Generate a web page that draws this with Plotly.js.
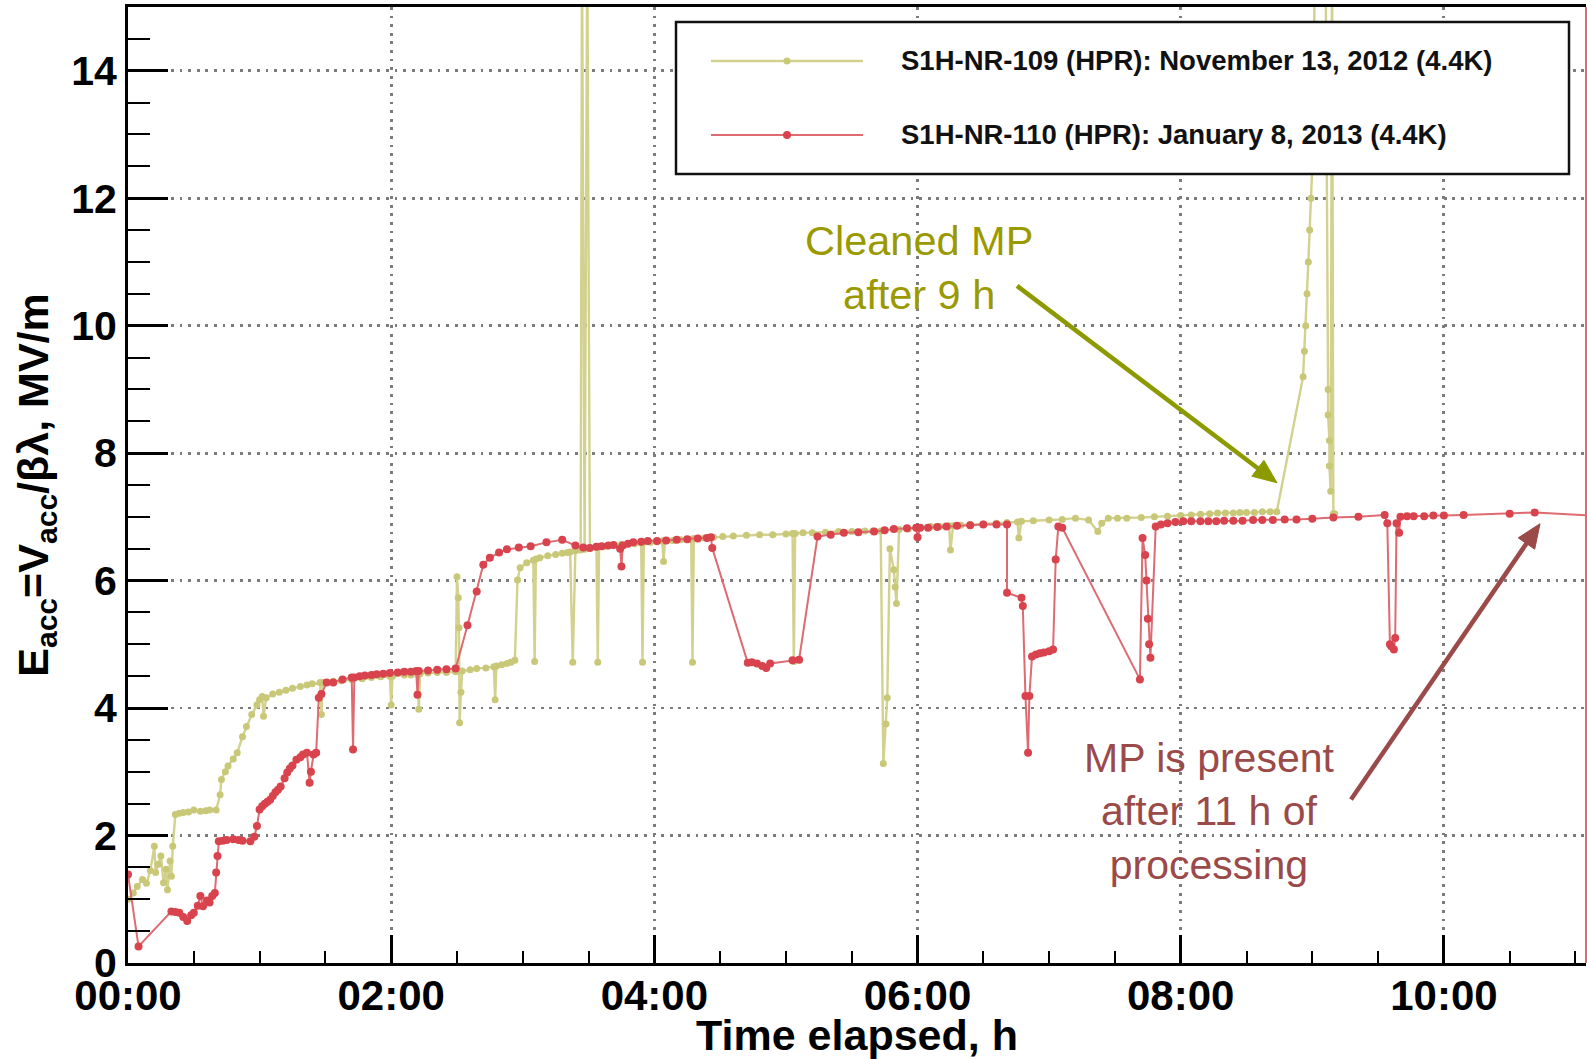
<!DOCTYPE html>
<html>
<head>
<meta charset="utf-8">
<script src="https://cdn.plot.ly/plotly-3.0.1.min.js"></script>
<style>html,body{margin:0;padding:0;background:#fff;}#chart{width:1587px;height:1059px;}</style>
</head>
<body>
<div id="chart"></div>
<script>
// ---- data (time elapsed in hours, Eacc in MV/m) ----
const seriesNames = ['S1H-NR-109 (HPR): November 13, 2012 (4.4K)', 'S1H-NR-110 (HPR): January 8, 2013 (4.4K)'];

const hoursNR109 = [0.00,0.04,0.07,0.11,0.14,0.17,0.20,0.21,0.23,0.25,0.27,0.29,0.30,0.32,0.33,0.34,0.36,0.39,0.42,0.46,0.50,0.55,0.59,0.62,0.67,0.70,0.71,0.74,0.76,0.80,0.83,0.87,0.90,0.94,0.98,1.00,1.02,1.03,1.05,1.10,1.15,1.20,1.25,1.31,1.36,1.40,1.46,1.47,1.48,1.56,1.62,1.70,1.78,1.85,1.92,1.99,2.00,2.01,2.10,2.15,2.20,2.21,2.22,2.28,2.35,2.42,2.49,2.50,2.51,2.515,2.52,2.53,2.54,2.60,2.65,2.72,2.78,2.79,2.80,2.84,2.88,2.91,2.94,2.96,2.98,3.03,3.08,3.09,3.10,3.13,3.19,3.25,3.30,3.34,3.36,3.38,3.40,3.44,3.45,3.47,3.49,3.51,3.56,3.57,3.58,3.63,3.69,3.75,3.80,3.85,3.90,3.91,3.92,3.97,4.02,4.06,4.07,4.08,4.14,4.20,4.28,4.29,4.30,4.38,4.45,4.52,4.60,4.70,4.80,4.90,5.00,5.05,5.06,5.07,5.13,5.20,5.30,5.40,5.50,5.60,5.66,5.72,5.74,5.76,5.77,5.79,5.82,5.83,5.84,5.86,5.93,6.00,6.10,6.17,6.24,6.25,6.27,6.33,6.40,6.50,6.60,6.68,6.76,6.77,6.79,6.88,7.00,7.10,7.20,7.30,7.37,7.40,7.45,7.52,7.59,7.70,7.80,7.90,8.00,8.08,8.15,8.22,8.28,8.34,8.40,8.45,8.50,8.56,8.62,8.68,8.73,8.93,8.94,8.95,8.96,8.97,8.98,8.99,9.00,9.01,9.02,9.08,9.10,9.12,9.12,9.13,9.13,9.14,9.15,9.16,9.17];
const emvNR109 = [1.00,1.10,1.20,1.31,1.25,1.45,1.83,1.42,1.55,1.68,1.26,1.47,1.15,1.60,1.36,1.83,2.33,2.35,2.36,2.37,2.40,2.38,2.39,2.40,2.40,2.64,2.88,3.00,3.09,3.20,3.30,3.55,3.71,3.90,4.05,4.13,4.18,3.87,4.16,4.22,4.25,4.28,4.31,4.34,4.36,4.38,4.40,3.90,4.40,4.42,4.43,4.45,4.46,4.48,4.49,4.50,4.05,4.50,4.52,4.52,4.53,3.98,4.54,4.55,4.56,4.56,4.57,6.06,5.73,5.26,3.77,4.25,4.58,4.60,4.62,4.63,4.65,4.13,4.66,4.68,4.70,4.72,4.75,6.01,6.20,6.28,6.32,4.73,6.34,6.36,6.39,6.41,6.43,6.44,6.45,4.72,6.47,6.48,16,6.49,16,6.51,6.52,4.72,6.53,6.54,6.56,6.57,6.58,6.58,6.59,4.72,6.60,6.60,6.61,6.62,6.30,6.62,6.63,6.64,6.65,4.72,6.66,6.67,6.68,6.69,6.70,6.71,6.72,6.72,6.73,6.74,4.73,6.74,6.75,6.75,6.76,6.77,6.77,6.78,6.78,6.78,3.13,3.75,4.16,6.50,6.17,5.90,5.64,6.80,6.81,6.83,6.85,6.85,6.86,6.48,6.86,6.87,6.88,6.89,6.90,6.91,6.92,6.67,6.93,6.94,6.95,6.96,6.98,6.95,6.77,6.90,6.98,6.98,6.98,6.99,7.00,7.01,7.02,7.03,7.04,7.05,7.06,7.06,7.06,7.07,7.07,7.07,7.08,7.08,7.08,9.20,9.60,10.0,10.5,11.0,11.5,12.0,12.5,13.5,16,16,16,9.00,8.60,8.20,7.80,7.40,16,7.05,7.05];

const hoursNR110 = [0.00,0.08,0.33,0.36,0.39,0.42,0.45,0.48,0.50,0.53,0.55,0.57,0.60,0.62,0.64,0.66,0.67,0.68,0.69,0.72,0.75,0.80,0.84,0.87,0.93,0.96,0.98,1.00,1.02,1.04,1.06,1.08,1.10,1.12,1.14,1.16,1.19,1.21,1.23,1.25,1.28,1.31,1.33,1.36,1.38,1.39,1.41,1.43,1.45,1.47,1.51,1.56,1.63,1.70,1.71,1.72,1.76,1.80,1.85,1.89,1.94,1.99,2.05,2.10,2.15,2.19,2.20,2.21,2.28,2.35,2.42,2.49,2.58,2.65,2.70,2.75,2.82,2.88,2.97,3.06,3.18,3.30,3.40,3.46,3.51,3.56,3.60,3.65,3.69,3.74,3.75,3.76,3.80,3.84,3.90,3.95,4.02,4.09,4.17,4.25,4.33,4.40,4.43,4.44,4.71,4.74,4.78,4.82,4.85,4.88,5.05,5.10,5.24,5.34,5.44,5.55,5.67,5.75,5.82,5.92,5.99,6.00,6.02,6.08,6.15,6.22,6.30,6.40,6.50,6.60,6.68,6.68,6.79,6.80,6.82,6.84,6.85,6.87,6.90,6.93,6.96,7.00,7.03,7.05,7.07,7.10,7.69,7.71,7.73,7.74,7.75,7.76,7.77,7.81,7.85,7.90,7.96,8.02,8.08,8.15,8.21,8.27,8.33,8.40,8.47,8.55,8.62,8.70,8.79,8.88,9.00,9.16,9.35,9.55,9.57,9.59,9.60,9.62,9.63,9.64,9.66,9.67,9.72,9.77,9.85,9.92,10.00,10.15,10.50,10.69,11.30];
const emvNR110 = [1.39,0.26,0.81,0.80,0.79,0.72,0.66,0.75,0.79,0.90,1.05,0.89,0.98,0.95,1.05,1.10,1.42,1.68,1.91,1.92,1.93,1.94,1.93,1.92,1.91,1.98,2.15,2.41,2.46,2.50,2.53,2.56,2.62,2.68,2.72,2.77,2.90,2.99,3.05,3.10,3.19,3.23,3.27,3.30,2.83,3.00,3.27,3.30,4.16,4.22,4.40,4.40,4.45,4.48,3.35,4.48,4.50,4.51,4.52,4.53,4.54,4.55,4.56,4.57,4.57,4.58,4.21,4.58,4.59,4.60,4.61,4.62,5.30,5.83,6.25,6.36,6.44,6.49,6.52,6.54,6.60,6.64,6.55,6.52,6.51,6.53,6.54,6.55,6.56,6.50,6.22,6.55,6.58,6.60,6.61,6.62,6.62,6.63,6.64,6.65,6.66,6.67,6.68,6.51,4.71,4.72,4.70,4.66,4.63,4.70,4.75,4.76,6.69,6.72,6.75,6.76,6.77,6.79,6.81,6.82,6.83,6.68,6.83,6.83,6.84,6.85,6.86,6.87,6.88,6.88,6.88,5.81,5.73,5.60,4.19,3.30,4.19,4.81,4.84,4.86,4.87,4.89,4.92,6.33,6.85,6.83,4.45,6.67,6.40,6.00,5.40,5.00,4.79,6.85,6.88,6.90,6.92,6.93,6.93,6.93,6.93,6.93,6.94,6.94,6.94,6.95,6.95,6.95,6.96,6.96,6.97,6.99,7.00,7.03,6.90,5.00,4.97,4.92,5.10,6.90,6.75,7.00,7.01,7.01,7.01,7.02,7.02,7.03,7.05,7.07,7.00];

const xTickVals = [0, 2, 4, 6, 8, 10];
const xTickText = ['00:00', '02:00', '04:00', '06:00', '08:00', '10:00'];
const yTickVals = [0, 2, 4, 6, 8, 10, 12, 14];

// ---- styling ----
const yellowLine = '#d2d18e', yellowMark = '#c9c878';
const redLine = '#de6a72', redMark = '#d8434d';
const olive = '#9a9a00', oliveArrow = '#8c9a00';
const maroon = '#9b4a4a';
const FONT = 'Liberation Sans, Arial, Helvetica, sans-serif';

const traces = [
  {x: hoursNR109, y: emvNR109, name: seriesNames[0], type: 'scatter', mode: 'lines+markers',
   line: {color: yellowLine, width: 2.4}, marker: {color: yellowMark, size: 7}, cliponaxis: true},
  {x: hoursNR110, y: emvNR110, name: seriesNames[1], type: 'scatter', mode: 'lines+markers',
   line: {color: redLine, width: 2}, marker: {color: redMark, size: 8}, cliponaxis: true}
];

// plot area in pixels: left 128, right 1586, top 7, bottom 963.5
const L = 128, R = 1586, T = 7, B = 963.5;
const px = v => (v - L) / (R - L);
const py = v => (B - v) / (B - T);

// arrow drawn as a shaft + filled head (pixel geometry converted to paper units)
function arrowShapes(tx, ty, hx, hy, color, width, headLen, headHalf) {
  const dx = hx - tx, dy = hy - ty, len = Math.hypot(dx, dy);
  const ux = dx / len, uy = dy / len, nx = -uy, ny = ux;
  const bx = hx - ux * headLen, by = hy - uy * headLen;
  return [
    {type: 'line', xref: 'paper', yref: 'paper', x0: px(tx), y0: py(ty), x1: px(bx + ux * 2), y1: py(by + uy * 2),
     line: {color: color, width: width}, layer: 'above'},
    {type: 'path', xref: 'paper', yref: 'paper', layer: 'above', fillcolor: color, line: {color: color, width: 1},
     path: 'M' + px(hx) + ',' + py(hy) + ' L' + px(bx + nx * headHalf) + ',' + py(by + ny * headHalf) +
           ' L' + px(bx - nx * headHalf) + ',' + py(by - ny * headHalf) + ' Z'}
  ];
}

const legRows = [61, 135];
const shapes = [
  {type: 'rect', xref: 'paper', yref: 'paper', x0: px(676), x1: px(1569), y0: py(174), y1: py(22),
   line: {color: '#111', width: 2.5}, fillcolor: '#fff', layer: 'above'},
  {type: 'line', xref: 'paper', yref: 'paper', x0: px(711), x1: px(863), y0: py(legRows[0]), y1: py(legRows[0]),
   line: {color: yellowLine, width: 2.5}, layer: 'above'},
  {type: 'line', xref: 'paper', yref: 'paper', x0: px(711), x1: px(863), y0: py(legRows[1]), y1: py(legRows[1]),
   line: {color: redLine, width: 2}, layer: 'above'},
  {type: 'circle', xref: 'paper', yref: 'paper', xsizemode: 'pixel', ysizemode: 'pixel',
   xanchor: px(787), yanchor: py(legRows[0]), x0: -3.5, x1: 3.5, y0: -3.5, y1: 3.5,
   fillcolor: yellowMark, line: {width: 0}, layer: 'above'},
  {type: 'circle', xref: 'paper', yref: 'paper', xsizemode: 'pixel', ysizemode: 'pixel',
   xanchor: px(787), yanchor: py(legRows[1]), x0: -4, x1: 4, y0: -4, y1: 4,
   fillcolor: redMark, line: {width: 0}, layer: 'above'},
  {type: 'line', xref: 'paper', yref: 'paper', x0: 1, x1: 1, y0: 0, y1: 1,
   line: {color: '#e06a6a', width: 2}, layer: 'above'}
].concat(
  arrowShapes(1017, 286, 1277, 483, oliveArrow, 4.5, 24, 10),
  arrowShapes(1351, 800, 1540, 524, maroon, 4.5, 24, 10)
);

const annotations = [
  {xref: 'paper', yref: 'paper', x: px(899), y: py(legRows[0]), xanchor: 'left', yanchor: 'middle',
   text: seriesNames[0], showarrow: false, font: {family: FONT, size: 27.5, color: '#111', weight: 'bold'}},
  {xref: 'paper', yref: 'paper', x: px(899), y: py(legRows[1]), xanchor: 'left', yanchor: 'middle',
   text: seriesNames[1], showarrow: false, font: {family: FONT, size: 27.5, color: '#111', weight: 'bold'}},
  {xref: 'paper', yref: 'paper', x: px(919), y: py(268), xanchor: 'center', yanchor: 'middle',
   text: 'Cleaned MP<br>after 9 h', showarrow: false, font: {family: FONT, size: 41.5, color: olive}},
  {xref: 'paper', yref: 'paper', x: px(1209), y: py(812), xanchor: 'center', yanchor: 'middle',
   text: 'MP is present<br>after 11 h of<br>processing', showarrow: false, font: {family: FONT, size: 41, color: maroon}}
];

const gridStyle = {showgrid: true, gridcolor: '#7c7c7c', gridwidth: 2.8, griddash: '2.8px,5.8px'};

const layout = {
  width: 1587, height: 1059,
  margin: {l: L, r: 1587 - R, t: T, b: 1059 - B, pad: 0},
  paper_bgcolor: '#fff', plot_bgcolor: '#fff',
  showlegend: false, hovermode: false,
  font: {family: FONT, color: '#000'},
  xaxis: Object.assign({
    range: [0, 11.08], tickmode: 'array', tickvals: xTickVals, ticktext: xTickText,
    ticks: 'inside', ticklen: 28, tickwidth: 3, tickcolor: '#000', ticklabelstandoff: -6,
    minor: {tickmode: 'linear', tick0: 0, dtick: 0.5, ticks: 'inside', ticklen: 12, tickwidth: 2, tickcolor: '#000', showgrid: false},
    showline: true, linecolor: '#000', linewidth: 3, mirror: true, zeroline: false,
    tickfont: {family: FONT, size: 42, color: '#000', weight: 'bold'},
    title: {text: 'Time elapsed, h', font: {family: FONT, size: 43, color: '#000', weight: 'bold'}, standoff: 6},
    automargin: false
  }, gridStyle),
  yaxis: Object.assign({
    range: [0, 15], tickmode: 'array', tickvals: yTickVals,
    ticks: 'inside', ticklen: 40, tickwidth: 3, tickcolor: '#000',
    minor: {tickmode: 'linear', tick0: 0, dtick: 0.5, ticks: 'inside', ticklen: 22, tickwidth: 2, tickcolor: '#000', showgrid: false},
    showline: true, linecolor: '#000', linewidth: 3, mirror: false, zeroline: false,
    tickfont: {family: FONT, size: 41, color: '#000', weight: 'bold'},
    title: {text: 'E<sub>acc</sub>=V<sub>acc</sub>/βλ, MV/m', font: {family: FONT, size: 43, color: '#000', weight: 'bold'}, standoff: 10},
    automargin: false
  }, gridStyle),
  shapes: shapes,
  annotations: annotations
};

Plotly.newPlot('chart', traces, layout, {staticPlot: true, displayModeBar: false});
</script>
</body>
</html>
